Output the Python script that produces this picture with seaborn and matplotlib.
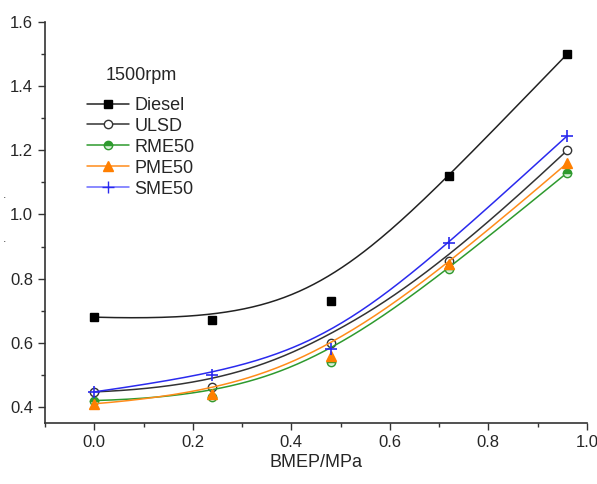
import numpy as np
import pandas as pd
import matplotlib
matplotlib.use("Agg")
import matplotlib.pyplot as plt
from matplotlib.lines import Line2D
from matplotlib.ticker import MultipleLocator
import seaborn as sns

# BMEP load points
bmep = [0.0, 0.24, 0.48, 0.72, 0.96]

diesel = [0.68, 0.67, 0.73, 1.12, 1.50]
ulsd = [0.447, 0.462, 0.60, 0.855, 1.20]
rme50 = [0.42, 0.43, 0.54, 0.83, 1.13]
pme50 = [0.41, 0.44, 0.56, 0.845, 1.16]
sme50 = [0.447, 0.50, 0.58, 0.91, 1.245]

names = ["Diesel", "ULSD", "RME50", "PME50", "SME50"]
series = [diesel, ulsd, rme50, pme50, sme50]


def bspline(px, py, n=200, k=3):
    # clamped B-spline using the data points as control points
    m = len(px)
    knots = np.concatenate([np.zeros(k), np.arange(m - k + 1), np.full(k, m - k)]).astype(float)
    t = np.linspace(0, m - k, n)
    t[-1] -= 1e-9

    def basis(i, d, t):
        if d == 0:
            return ((knots[i] <= t) & (t < knots[i + 1])).astype(float)
        out = np.zeros_like(t)
        den1 = knots[i + d] - knots[i]
        den2 = knots[i + d + 1] - knots[i + 1]
        if den1 > 0:
            out += (t - knots[i]) / den1 * basis(i, d - 1, t)
        if den2 > 0:
            out += (knots[i + d + 1] - t) / den2 * basis(i + 1, d - 1, t)
        return out

    B = np.array([basis(i, k, t) for i in range(m)])
    return B.T @ np.asarray(px), B.T @ np.asarray(py)


sns.set_style("ticks")
plt.rcParams["font.family"] = ["Liberation Sans", "DejaVu Sans"]

# line colour, marker, marker face, marker edge, size, fillstyle
styles = {
    "Diesel": ("#222222", "s", "black", "black", 6, "full"),
    "ULSD": ("#333333", "o", "white", "#333333", 6, "full"),
    "RME50": ("#2e9a2e", "o", "#2e9a2e", "#2e9a2e", 6, "top"),
    "PME50": ("#ff8c1a", "^", "#ff7f00", "#ff7f00", 7, "full"),
    "SME50": ("#2a2aee", "+", "#2a2aee", "#2a2aee", 9, "full"),
}

rows = []
for n, vals in zip(names, series):
    for b, v in zip(bmep, vals):
        rows.append({"bmep": b, "val": v, "fuel": n})
df = pd.DataFrame(rows)

fig = plt.figure(figsize=(5.97, 4.84), dpi=100)
ax = fig.add_axes([0.0754, 0.126, 0.9076, 0.8285])

handles = []
for n, vals in zip(names, series):
    col, mk, fc, ec, ms, fs = styles[n]
    cx, cy = bspline(bmep, vals)
    fit = pd.DataFrame({"bmep": cx, "val": cy})
    sns.lineplot(data=fit, x="bmep", y="val", color=col, lw=1.1, ax=ax,
                 sort=False, estimator=None)
    sub = df[df.fuel == n]
    ax.plot(sub.bmep, sub.val, ls="none", marker=mk, ms=ms, mfc=fc, mec=ec,
            fillstyle=fs, markerfacecoloralt="#d6efd6",
            mew=1.0 if mk != "+" else 1.2)
    lc = col if n != "SME50" else "#6a6aff"
    handles.append(Line2D([], [], color=lc, lw=1.1, marker=mk, ms=ms, mfc=fc,
                          mec=ec, fillstyle=fs, markerfacecoloralt="#d6efd6",
                          label=n))

ax.set_xlim(-0.1, 1.0)
ax.set_ylim(0.35, 1.6)
ax.xaxis.set_minor_locator(MultipleLocator(0.1))
ax.yaxis.set_minor_locator(MultipleLocator(0.1))
ax.set_xticks([0.0, 0.2, 0.4, 0.6, 0.8, 1.0])
ax.set_yticks([0.4, 0.6, 0.8, 1.0, 1.2, 1.4, 1.6])
ax.tick_params(which="major", length=5, width=1, labelsize=12, color="#333333")
ax.tick_params(which="minor", length=3, width=1, color="#333333")
ax.set_xlabel("BMEP/MPa", fontsize=13, labelpad=3)
ax.set_ylabel("")
for s in ["left", "bottom"]:
    ax.spines[s].set_linewidth(1.2)
    ax.spines[s].set_color("#333333")
sns.despine(ax=ax)

leg = ax.legend(handles=handles, title="1500rpm", loc="upper left",
                bbox_to_anchor=(0.065, 0.905), frameon=False, fontsize=13,
                title_fontsize=13, handlelength=2.3, handletextpad=0.3,
                labelspacing=0.22, borderaxespad=0)
leg._legend_box.sep = 9

# remnants of the clipped y-axis label at the left edge
fig.text(0.004, 0.59, ".", fontsize=9, color="#444444")
fig.text(0.004, 0.501, ".", fontsize=9, color="#444444")

fig.savefig("out.png", dpi=100)
